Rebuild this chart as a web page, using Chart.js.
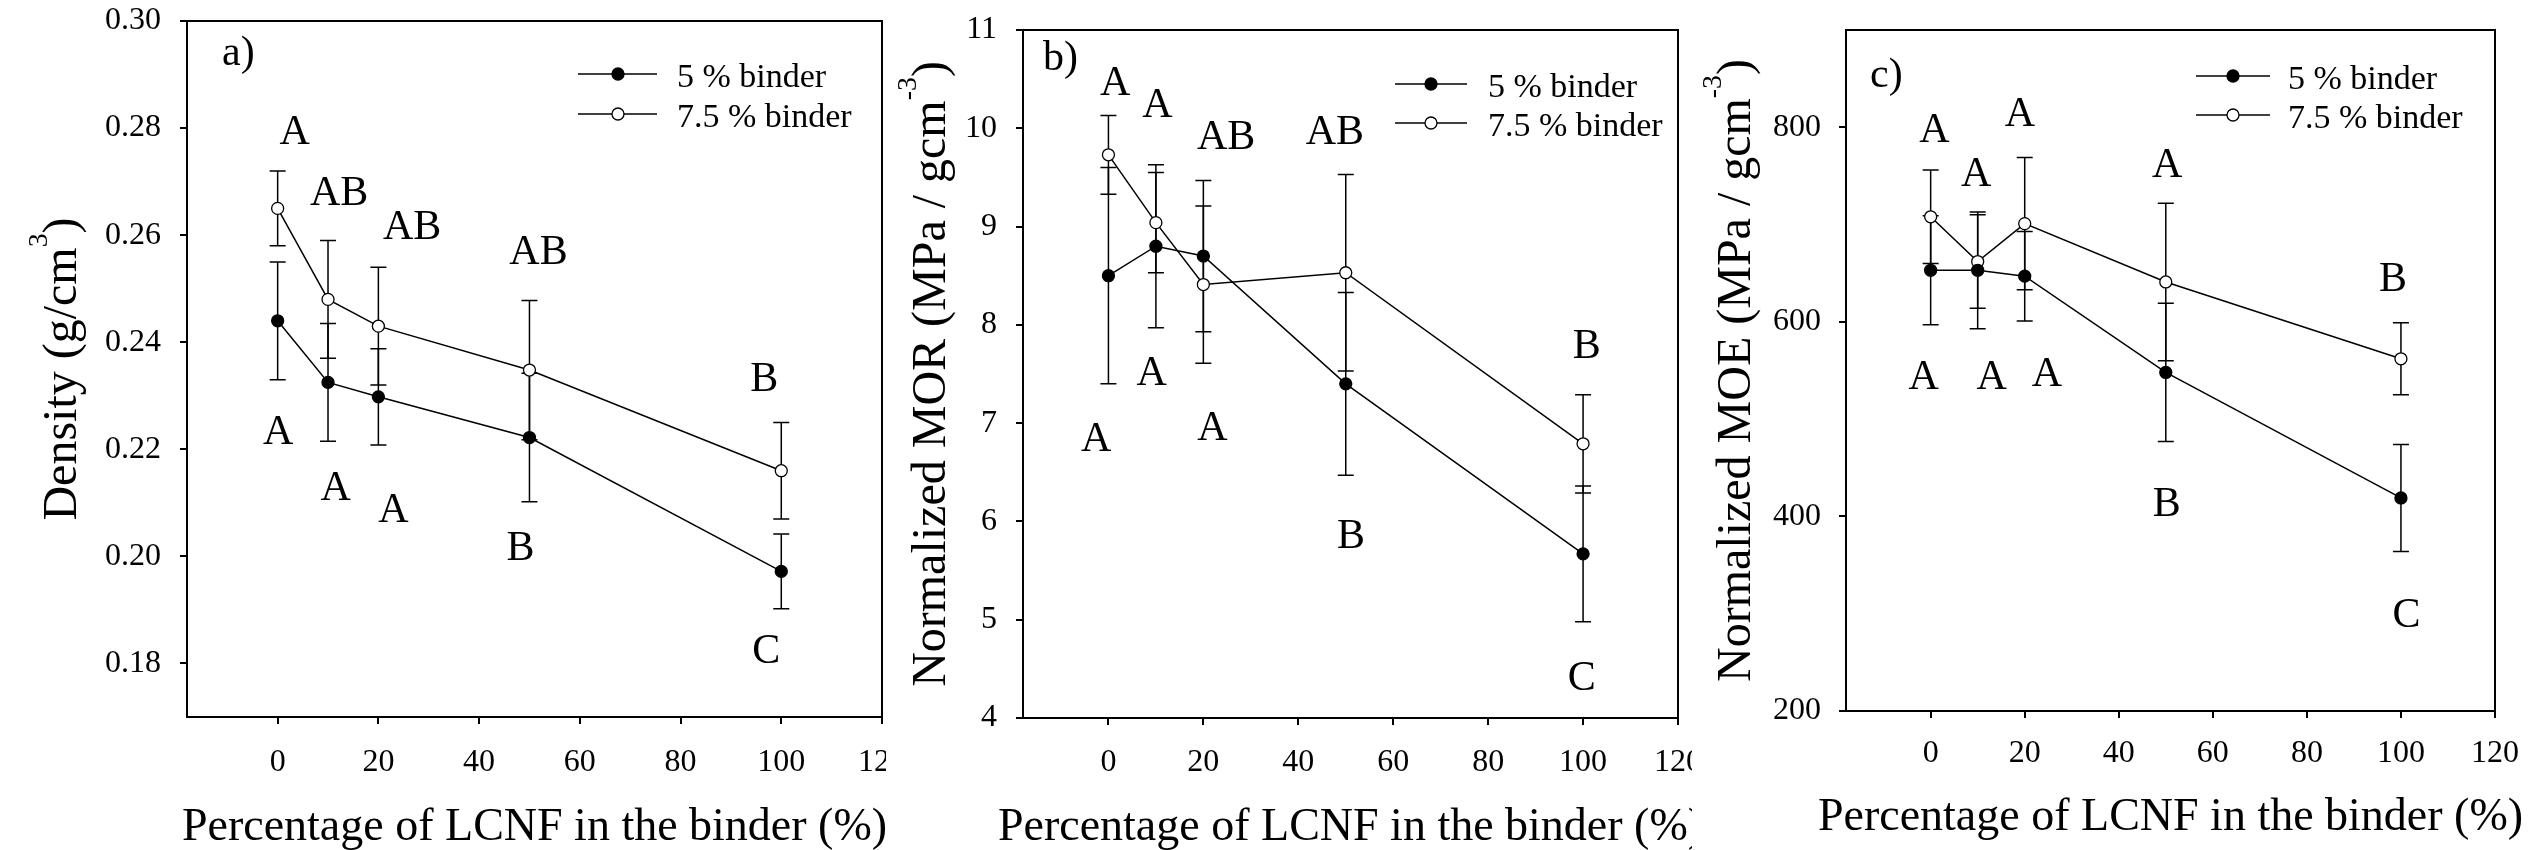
<!DOCTYPE html>
<html lang="en">
<head>
<meta charset="UTF-8">
<title>Density, MOR and MOE vs LCNF in the binder</title>
<script src="https://cdn.jsdelivr.net/npm/chart.js"></script>
<style>
  html, body { margin: 0; padding: 0; background: #fff; overflow: hidden; width: 2534px; height: 850px; }
  .panel { position: absolute; top: -60px; background: #fff; }
  #panelA { left: 0; }
  #panelB { left: 886px; }
  #panelC { left: 1692px; }
</style>
</head>
<body>
<canvas id="panelA" class="panel" width="960" height="910"></canvas>
<canvas id="panelB" class="panel" width="900" height="910"></canvas>
<canvas id="panelC" class="panel" width="900" height="910"></canvas>
<script>
  // LCNF share in the binder (%)
  const lcnf = [0, 10, 20, 50, 100];
  const xTicks = [0, 20, 40, 60, 80, 100, 120];

  // a) density (g/cm3)
  const density5 = [0.244, 0.2325, 0.2298, 0.2222, 0.1972];
  const density5Err = [0.011, 0.011, 0.009, 0.012, 0.007];
  const density75 = [0.265, 0.248, 0.243, 0.2348, 0.216];
  const density75Err = [0.007, 0.011, 0.011, 0.013, 0.009];
  const densityTicks = [0.18, 0.20, 0.22, 0.24, 0.26, 0.28, 0.30];

  // b) normalized MOR
  const mor5 = [8.50, 8.80, 8.70, 7.40, 5.67];
  const mor5Err = [1.10, 0.83, 0.77, 0.93, 0.69];
  const mor75 = [9.73, 9.04, 8.41, 8.53, 6.79];
  const mor75Err = [0.40, 0.51, 0.80, 1.00, 0.50];
  const morTicks = [4, 5, 6, 7, 8, 9, 10, 11];

  // c) normalized MOE
  const moe5 = [653, 653, 647, 548, 419];
  const moe5Err = [56, 60, 46, 71, 55];
  const moe75 = [708, 662, 701, 641, 562];
  const moe75Err = [48, 48, 68, 81, 37];
  const moeTicks = [200, 400, 600, 800];

  // significance letters (placed in data units)
  const densityLetters = [
    [3.4, 0.279, 'A'], [12.2, 0.2676, 'AB'], [26.7, 0.2613, 'AB'], [51.8, 0.2567, 'AB'], [96.6, 0.2329, 'B'],
    [0.1, 0.223, 'A'], [11.5, 0.2126, 'A'], [23, 0.2085, 'A'], [48.2, 0.2014, 'B'], [97, 0.1822, 'C']
  ];
  const morLetters = [
    [1.4, 10.45, 'A'], [10.3, 10.23, 'A'], [24.8, 9.90, 'AB'], [47.7, 9.95, 'AB'], [100.8, 7.77, 'B'],
    [-2.6, 6.83, 'A'], [9.1, 7.50, 'A'], [21.9, 6.94, 'A'], [51.1, 5.84, 'B'], [99.7, 4.40, 'C']
  ];
  const moeLetters = [
    [0.8, 796, 'A'], [9.7, 751.5, 'A'], [19, 812.8, 'A'], [50.3, 760, 'A'], [98.3, 643, 'B'],
    [-1.5, 542.7, 'A'], [13, 542.7, 'A'], [24.7, 545.5, 'A'], [50.2, 411.8, 'B'], [101.2, 297.6, 'C']
  ];

  const seriesNames = ['5 % binder', '7.5 % binder'];
  const xTitle = 'Percentage of LCNF in the binder (%)';
  const FONT = '"Liberation Serif", "Times New Roman", serif';

  function font(size) { return size + 'px ' + FONT; }

  // text with optional superscript parts, centred on x, baseline at y
  function drawRich(ctx, parts, size, x, y) {
    const supSize = size * 0.58;
    let total = 0;
    parts.forEach(p => {
      ctx.font = font(p[1] ? supSize : size);
      total += ctx.measureText(p[0]).width;
    });
    let cx = x - total / 2;
    ctx.textAlign = 'left';
    ctx.textBaseline = 'alphabetic';
    parts.forEach(p => {
      ctx.font = font(p[1] ? supSize : size);
      ctx.fillText(p[0], cx, p[1] ? y - size * 0.62 : y);
      cx += ctx.measureText(p[0]).width;
    });
  }

  const decor = {
    id: 'decor',
    beforeDraw(chart) {
      const ctx = chart.ctx;
      ctx.save();
      ctx.fillStyle = '#fff';
      ctx.fillRect(0, 0, chart.width, chart.height);
      ctx.restore();
    },
    beforeDatasetsDraw(chart, args, opts) {
      const {ctx, scales: {x, y}} = chart;
      ctx.save();
      ctx.strokeStyle = '#000';
      ctx.lineWidth = 1.5;
      chart.data.datasets.forEach((ds, di) => {
        const err = opts.errors[di];
        ds.data.forEach((p, i) => {
          const px = x.getPixelForValue(p.x);
          const top = y.getPixelForValue(p.y + err[i]);
          const bot = y.getPixelForValue(p.y - err[i]);
          ctx.beginPath();
          ctx.moveTo(px, top); ctx.lineTo(px, bot);
          ctx.moveTo(px - 8, top); ctx.lineTo(px + 8, top);
          ctx.moveTo(px - 8, bot); ctx.lineTo(px + 8, bot);
          ctx.stroke();
        });
      });
      ctx.restore();
    },
    afterDraw(chart, args, opts) {
      const {ctx, chartArea: a, scales: {x, y}} = chart;
      ctx.save();
      ctx.fillStyle = '#000';
      ctx.strokeStyle = '#000';

      // frame, top and right sides
      ctx.lineWidth = 2;
      ctx.beginPath();
      ctx.moveTo(a.left, a.top); ctx.lineTo(a.right, a.top); ctx.lineTo(a.right, a.bottom);
      ctx.stroke();

      // letters
      ctx.font = font(42);
      ctx.textAlign = 'center';
      ctx.textBaseline = 'middle';
      opts.letters.forEach(l => {
        ctx.fillText(l[2], x.getPixelForValue(l[0]), y.getPixelForValue(l[1]));
      });

      // panel tag
      ctx.textAlign = 'left';
      ctx.textBaseline = 'alphabetic';
      ctx.fillText(opts.tag, a.left + opts.tagPos[0], a.top + opts.tagPos[1]);

      // legend
      const lg = opts.legend;
      ctx.font = font(34);
      chart.data.datasets.forEach((ds, i) => {
        const ly = a.top + (i === 0 ? lg.r1 : lg.r2);
        ctx.lineWidth = 1.5;
        ctx.beginPath();
        ctx.moveTo(a.left + lg.x0, ly); ctx.lineTo(a.left + lg.x1, ly);
        ctx.stroke();
        ctx.beginPath();
        ctx.arc(a.left + lg.xm, ly, 6, 0, Math.PI * 2);
        ctx.fillStyle = ds.pointBackgroundColor;
        ctx.fill();
        ctx.lineWidth = 1.3;
        ctx.stroke();
        ctx.fillStyle = '#000';
        ctx.fillText(ds.label, a.left + lg.xt, ly + 13);
      });

      // axis titles
      drawRich(ctx, [[xTitle, false]], 46, (a.left + a.right) / 2, opts.xTitleY);
      ctx.translate(opts.yTitleX, (a.top + a.bottom) / 2);
      ctx.rotate(-Math.PI / 2);
      drawRich(ctx, opts.yTitle, 48, 0, 48 * 0.34);
      ctx.restore();
    }
  };

  function makePanel(id, c) {
    const canvas = document.getElementById(id);
    const ds = (vals, fill, label) => ({
      label: label,
      data: lcnf.map((v, i) => ({x: v, y: vals[i]})),
      borderColor: '#000',
      borderWidth: 1.5,
      pointRadius: 6,
      pointBorderWidth: 1.3,
      pointBorderColor: '#000',
      pointBackgroundColor: fill,
      tension: 0
    });
    new Chart(canvas, {
      type: 'line',
      data: {datasets: [ds(c.s5, '#000', seriesNames[0]), ds(c.s75, '#fff', seriesNames[1])]},
      plugins: [decor],
      options: {
        responsive: false,
        animation: false,
        events: [],
        layout: {padding: {left: 0, top: c.area.top, right: canvas.width - c.area.right, bottom: 0}},
        plugins: {
          legend: {display: false},
          tooltip: {enabled: false},
          decor: {
            errors: [c.e5, c.e75], letters: c.letters, tag: c.tag, tagPos: c.tagPos,
            legend: c.legend, yTitle: c.yTitle, yTitleX: c.yTitleX, xTitleY: c.xTitleY
          }
        },
        scales: {
          x: {
            type: 'linear', min: -18, max: 120,
            afterBuildTicks: s => { s.ticks = xTicks.map(v => ({value: v})); },
            afterFit: s => { s.height = canvas.height - c.area.bottom; },
            grid: {drawOnChartArea: false, tickLength: 7, color: '#000', lineWidth: 2},
            border: {color: '#000', width: 2},
            ticks: {font: {family: FONT, size: 32}, color: '#000', padding: c.xPad, maxRotation: 0}
          },
          y: {
            type: 'linear', min: c.yMin, max: c.yMax,
            afterBuildTicks: s => { s.ticks = c.yTicks.map(v => ({value: v})); },
            afterFit: s => { s.width = c.area.left; },
            grid: {drawOnChartArea: false, tickLength: 7, color: '#000', lineWidth: 2},
            border: {color: '#000', width: 2},
            ticks: {font: {family: FONT, size: 32}, color: '#000', padding: c.yPad, callback: c.fmt}
          }
        }
      }
    });
  }

  makePanel('panelA', {
    s5: density5, e5: density5Err, s75: density75, e75: density75Err,
    yMin: 0.17, yMax: 0.30, yTicks: densityTicks, fmt: v => v.toFixed(2),
    letters: densityLetters, tag: 'a)', tagPos: [35, 44],
    legend: {x0: 391, x1: 470, xm: 431, xt: 490, r1: 53, r2: 93},
    yTitle: [['Density (g/cm', false], ['3', true], [')', false]],
    area: {left: 187, top: 81, right: 882, bottom: 777},
    yTitleX: 60, xTitleY: 900, xPad: 19, yPad: 19
  });

  makePanel('panelB', {
    s5: mor5, e5: mor5Err, s75: mor75, e75: mor75Err,
    yMin: 4, yMax: 11, yTicks: morTicks, fmt: v => String(v),
    letters: morLetters, tag: 'b)', tagPos: [20, 40],
    legend: {x0: 372, x1: 444, xm: 408, xt: 465, r1: 54, r2: 93},
    yTitle: [['Normalized MOR (MPa / gcm', false], ['-3', true], [')', false]],
    area: {left: 137, top: 90, right: 792, bottom: 778},
    yTitleX: 43, xTitleY: 900, xPad: 18, yPad: 19
  });

  makePanel('panelC', {
    s5: moe5, e5: moe5Err, s75: moe75, e75: moe75Err,
    yMin: 200, yMax: 900, yTicks: moeTicks, fmt: v => String(v),
    letters: moeLetters, tag: 'c)', tagPos: [24, 57],
    legend: {x0: 350, x1: 424, xm: 387, xt: 442, r1: 46, r2: 85},
    yTitle: [['Normalized MOE (MPa / gcm', false], ['-3', true], [')', false]],
    area: {left: 154, top: 90, right: 803, bottom: 771},
    yTitleX: 42, xTitleY: 890, xPad: 16, yPad: 18
  });
</script>
</body>
</html>
